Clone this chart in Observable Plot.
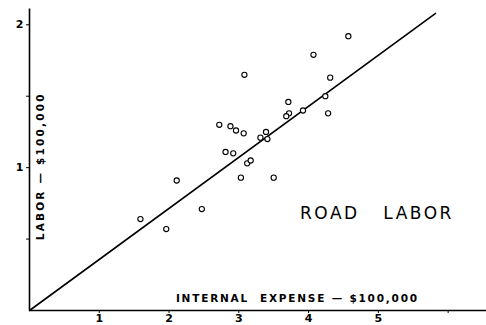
<!DOCTYPE html>
<html><head><meta charset="utf-8">
<script src="https://cdn.jsdelivr.net/npm/d3@7"></script>
<script src="https://cdn.jsdelivr.net/npm/@observablehq/plot@0.6"></script>
<style>body{margin:0;background:#fff;} svg{display:block;}</style>
</head><body><div id="chart"></div>
<script>
const expense = [4.07,3.08,4.31,3.71,4.24,3.72,3.68,3.92,4.28,2.72,2.88,2.96,3.07,3.39,3.31,3.41,2.81,2.92,3.12,3.17,2.11,3.03,3.50,2.47,1.59,1.96,4.57];
const labor   = [1.79,1.65,1.63,1.46,1.50,1.38,1.36,1.40,1.38,1.30,1.29,1.26,1.24,1.25,1.21,1.20,1.11,1.10,1.03,1.05,0.91,0.93,0.93,0.71,0.64,0.57,1.92];
const lineX = [0, 5.82];
const lineY = [0, 2.08];
const xTicks = [1,2,3,4,5,6];
const xTickLabels = ["1","2","3","4","5",""];
const yTicks = [0.5,1,1.5,2];
const yTickLabels = ["","1","","2"];
const xTitle = "INTERNAL  EXPENSE — $100,000";
const yTitle = "LABOR — $100,000";
const panelTitle = "ROAD   LABOR";
const titlePos = {x:[4.98], y:[0.68]};
const xTitlePos = {x:[3.84], y:[0.08]};
const yTitlePos = {x:[0.16], y:[1.01]};

const pts = expense.map((e,i)=>({x:e, y:labor[i]}));
const line = lineX.map((x,i)=>({x, y:lineY[i]}));
const font = "DejaVu Sans, sans-serif";

const chart = Plot.plot({
  width: 486, height: 325,
  marginLeft: 29, marginRight: 0, marginTop: 0, marginBottom: 15,
  x: {domain:[0,6.55]},
  y: {domain:[0,2.17]},
  style: {fontFamily: font, background:"#fff", color:"#000"},
  marks: [
    Plot.ruleY([0], {x1:0, x2:6.55, stroke:"#000", strokeWidth:1.6}),
    Plot.ruleX([0], {y1:0, y2:2.11, stroke:"#000", strokeWidth:1.6}),
    Plot.axisX({ticks:xTicks, tickFormat:(d)=>xTickLabels[xTicks.indexOf(d)], tickSize:3, tickPadding:1, fontSize:11, fontWeight:"bold", label:null}),
    Plot.axisY({ticks:yTicks, tickFormat:(d)=>yTickLabels[yTicks.indexOf(d)], tickSize:3, tickPadding:3, fontSize:11, fontWeight:"bold", label:null}),
    Plot.line(line, {x:"x", y:"y", stroke:"#000", strokeWidth:1.6}),
    Plot.dot(pts, {x:"x", y:"y", r:2.6, stroke:"#000", strokeWidth:1.1, fill:"#fff"}),
    Plot.text([panelTitle], {x:titlePos.x, y:titlePos.y, fontSize:17, fill:"#000"}),
    Plot.text([xTitle], {x:xTitlePos.x, y:xTitlePos.y, fontSize:10.5, fill:"#000", fontWeight:"bold"}),
    Plot.text([yTitle], {x:yTitlePos.x, y:yTitlePos.y, fontSize:10.5, fill:"#000", fontWeight:"bold", rotate:-90})
  ]
});
chart.querySelectorAll("text").forEach(t=>{
  const s = t.textContent;
  if (s===panelTitle) t.setAttribute("letter-spacing","2.5");
  if (s===xTitle) t.setAttribute("letter-spacing","1.8");
  if (s===yTitle) t.setAttribute("letter-spacing","2.2");
});
document.getElementById("chart").appendChild(chart);
</script>
</body></html>
